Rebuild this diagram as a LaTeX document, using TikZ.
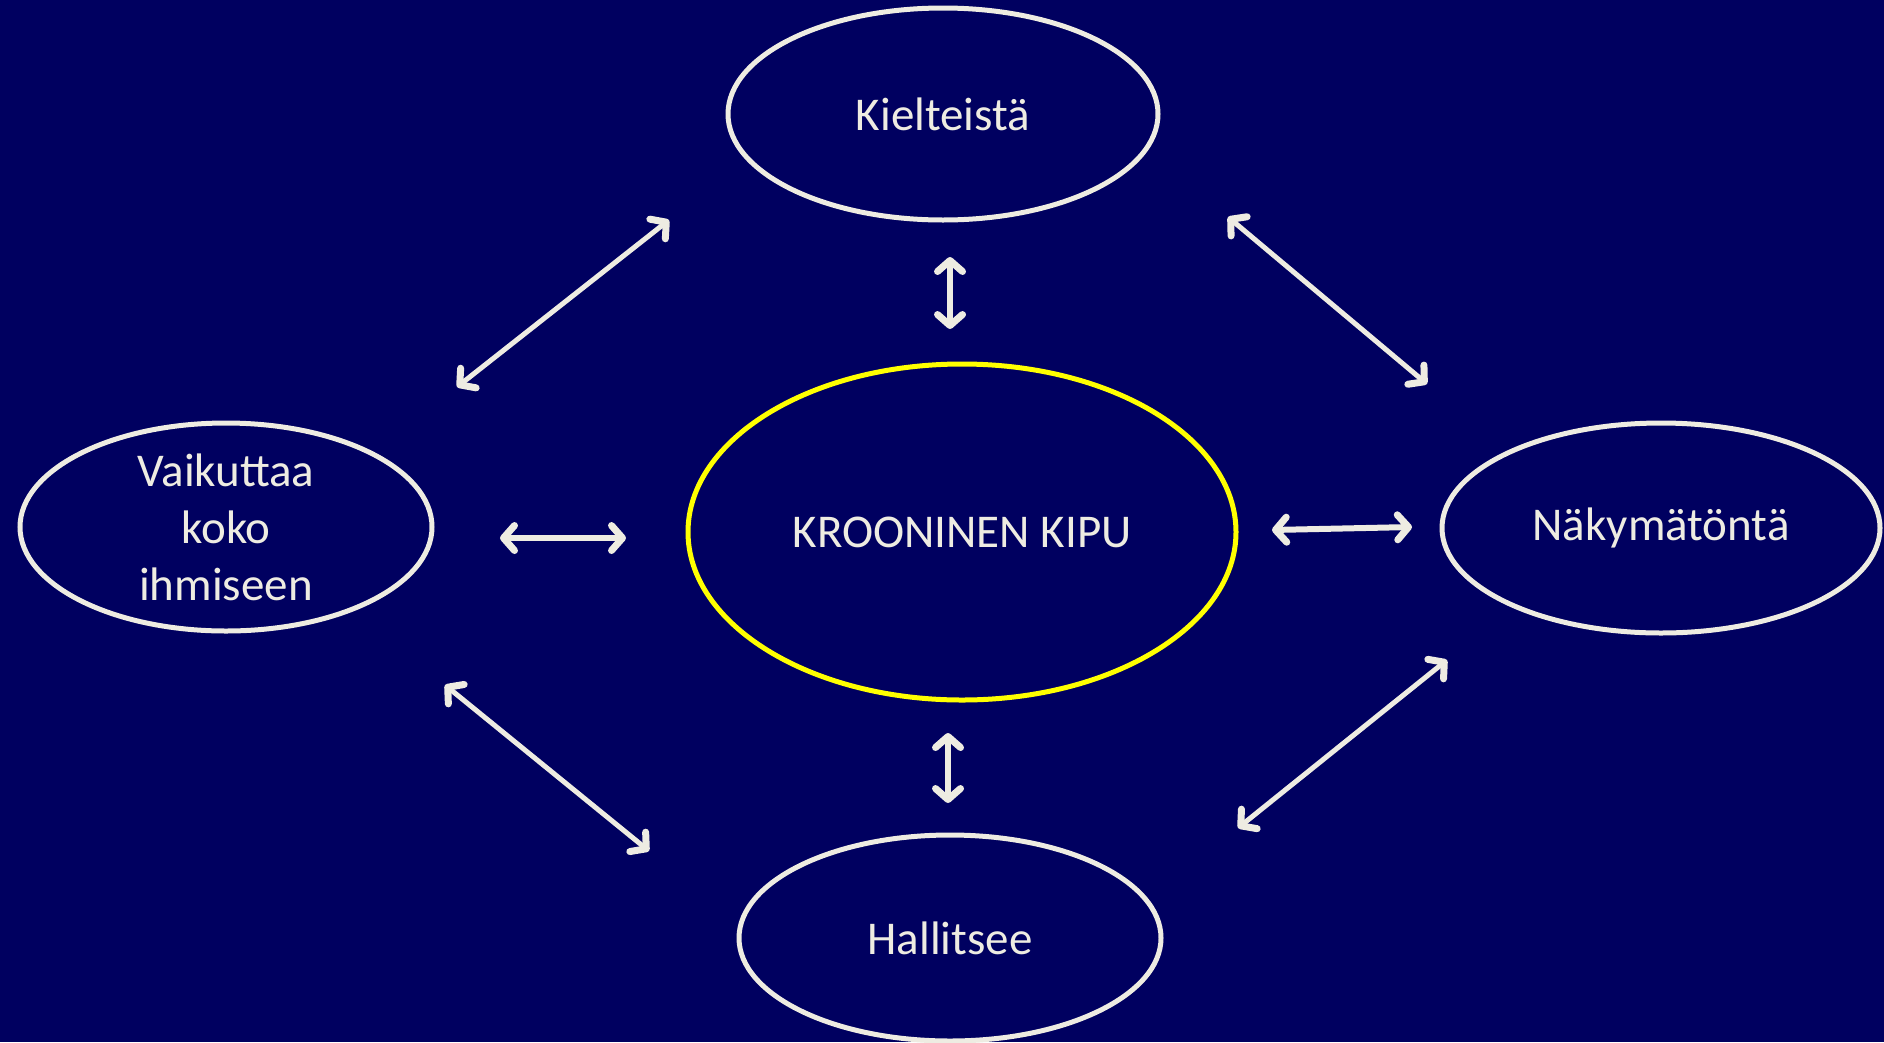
\documentclass[tikz,border=0pt]{standalone}
\usepackage{fontspec}
\setmainfont{Carlito}
\usetikzlibrary{arrows.meta,shapes.geometric}
\definecolor{bg}{RGB}{0,0,96}
\definecolor{fg}{RGB}{238,236,226}
\definecolor{yel}{RGB}{255,255,0}
\begin{document}
\begin{tikzpicture}[x=1pt,y=-1pt,
  oval/.style={ellipse, draw=fg, line width=5pt, inner sep=0pt, text=fg, align=center,
    font=\fontsize{47}{57}\selectfont},
  dbl/.style={draw=fg, line width=5pt, line cap=round,
    {Straight Barb[round,length=11pt,width=25pt,line width=7pt]}-{Straight Barb[round,length=11pt,width=25pt,line width=7pt]}},
  dblthick/.style={dbl, line width=6pt}]
\fill[bg] (0,0) rectangle (1884,1042);
\useasboundingbox (0,0) rectangle (1884,1042);

\node[oval, minimum width=430pt, minimum height=212pt] (top) at (943,114) {Kielteistä};
\node[oval, draw=yel, minimum width=548pt, minimum height=336pt] (mid) at (962,532) {KROONINEN KIPU};
\node[oval, minimum width=412pt, minimum height=208pt] (left) at (226,527) {Vaikuttaa\\koko\\ihmiseen};
\node[oval, minimum width=438pt, minimum height=210pt] (right) at (1661,528) {Näkymätöntä};
\node[oval, minimum width=422pt, minimum height=206pt] (bot) at (950,938) {Hallitsee};

\coordinate (tl1) at (457,387); \coordinate (tl2) at (669,220);
\coordinate (tr1) at (1228,217); \coordinate (tr2) at (1427,384);
\coordinate (bl1) at (445,685); \coordinate (bl2) at (649,851);
\coordinate (br1) at (1238,828); \coordinate (br2) at (1447,660);
\coordinate (tv1) at (950,257); \coordinate (tv2) at (950,329);
\coordinate (bv1) at (948,733); \coordinate (bv2) at (948,803);
\coordinate (lh1) at (500,538); \coordinate (lh2) at (626,538);
\coordinate (rh1) at (1272,530); \coordinate (rh2) at (1412,527);

\draw[dbl] (tl1) -- (tl2);
\draw[dbl] (tr1) -- (tr2);
\draw[dbl] (bl1) -- (bl2);
\draw[dbl] (br1) -- (br2);
\draw[dblthick] (tv1) -- (tv2);
\draw[dblthick] (bv1) -- (bv2);
\draw[dblthick] (lh1) -- (lh2);
\draw[dblthick] (rh1) -- (rh2);
\end{tikzpicture}
\end{document}
